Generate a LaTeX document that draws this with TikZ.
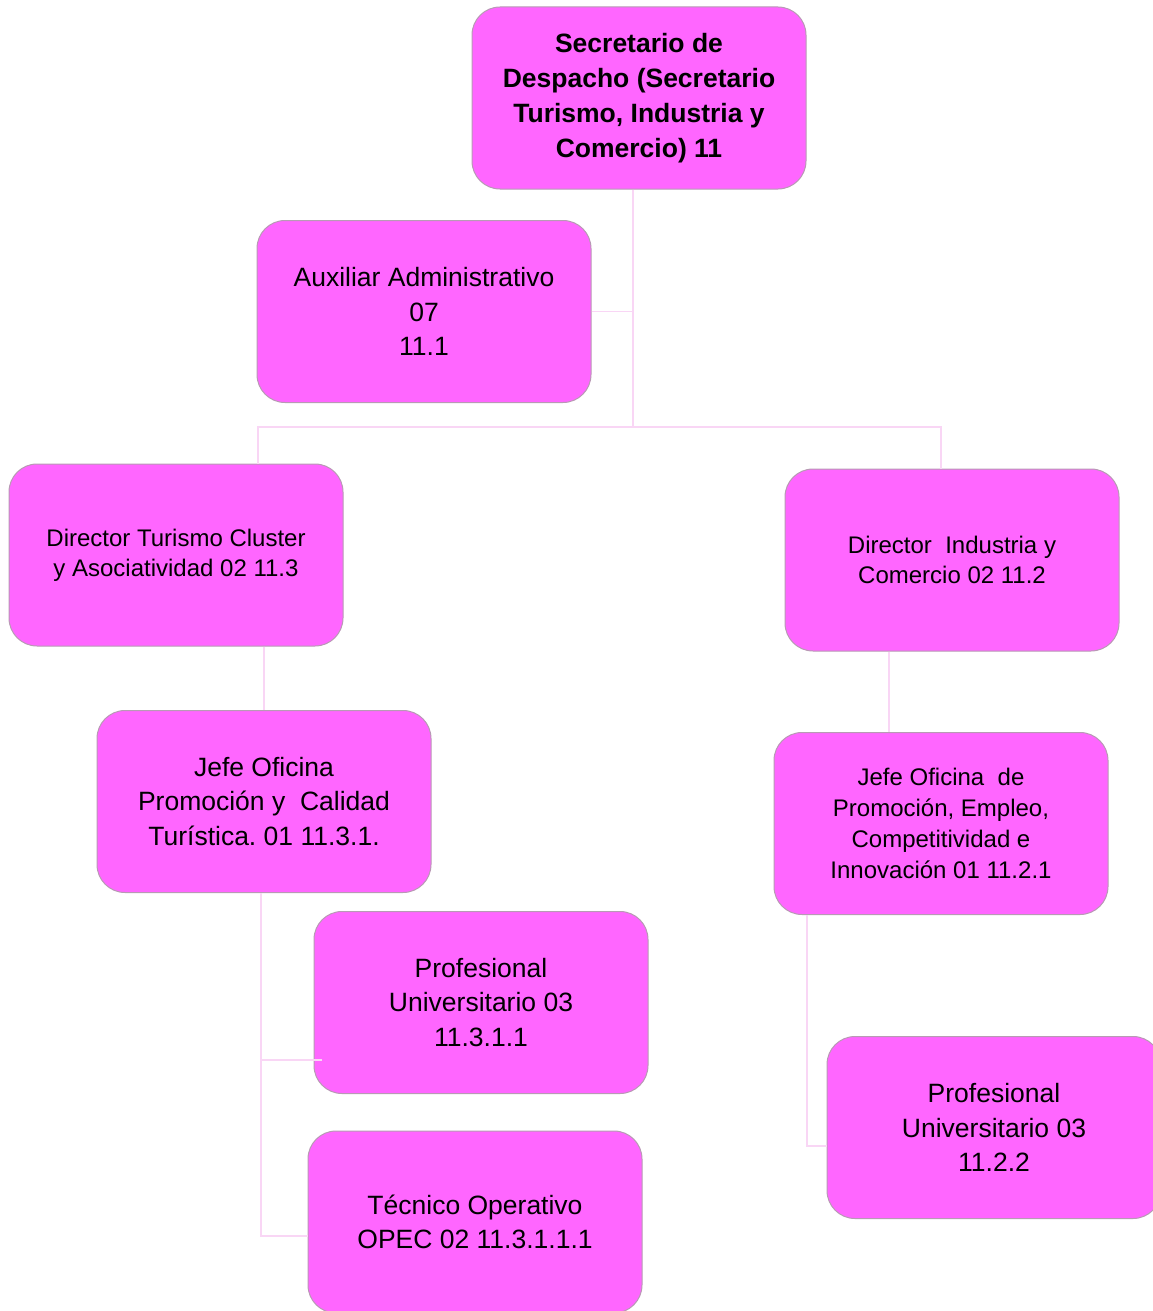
\documentclass[tikz,border=0pt]{standalone}
\usepackage{fontspec}
\setmainfont{Liberation Sans}
\frenchspacing
\definecolor{boxfill}{HTML}{FF66FF}
\definecolor{boxline}{HTML}{B89AB4}
\definecolor{connc}{HTML}{F9D6F5}
\begin{document}
\begin{tikzpicture}[x=1pt,y=-1pt,
  orgbox/.style={draw=boxline, line width=1pt, fill=boxfill, rounded corners=28pt,
     minimum width=334pt, minimum height=182pt, align=center, inner sep=0pt},
  conn/.style={draw=connc, line width=1.3pt},
  fbig/.style={font=\fontsize{26.5}{34.5}\selectfont},
  fmid/.style={font=\fontsize{24}{31}\selectfont},
  fsmall/.style={font=\fontsize{24}{30}\selectfont}]
\useasboundingbox (0,0) rectangle (1153,1311);
% nodes
\node[orgbox, font=\bfseries\fontsize{26.5}{35}\selectfont] (sec) at (639,98) {Secretario de\\Despacho (Secretario\\Turismo, Industria y\\Comercio) 11};
\node[orgbox, fbig] (aux) at (424,311.5) {Auxiliar Administrativo\\07\\11.1};
\node[orgbox, fsmall] (dt) at (176,555) {Director Turismo Cluster\\y Asociatividad 02 11.3};
\node[orgbox, fsmall] (di) at (952,560) {Director\ \ Industria y\\Comercio 02 11.2};
\node[orgbox, fbig] (jp) at (264,801.5) {Jefe Oficina\\Promoción y\ \ Calidad\\Turística. 01 11.3.1.};
\node[orgbox, fmid] (je) at (941,823.5) {Jefe Oficina\ \ de\\Promoción, Empleo,\\Competitividad e\\Innovación 01 11.2.1};
\node[orgbox, fbig] (pu1) at (481,1002.5) {Profesional\\Universitario 03\\11.3.1.1};
\node[orgbox, fbig] (tec) at (475,1222) {Técnico Operativo\\OPEC 02 11.3.1.1.1};
\node[orgbox, fbig] (pu2) at (994,1127.5) {Profesional\\Universitario 03\\11.2.2};
% connectors
\coordinate (tb) at (633,427);
\draw[conn] (sec.south -| tb) -- (tb);
\draw[conn] (aux.east) -- (aux.east -| tb);
\draw[conn] (tb) -| ([xshift=82pt]dt.north);
\draw[conn] (tb) -| ([xshift=-11pt]di.north);
\draw[conn] (dt.south -| jp.north) -- (jp.north);
\draw[conn] ([xshift=-63pt]di.south) -- ([xshift=-52pt]je.north);
\draw[conn] ([xshift=-3pt]jp.south) |- ([yshift=-14pt]tec.west);
\draw[conn] ([xshift=-3pt,yshift=-57.5pt]pu1.west -| jp.south) -- ([xshift=8pt,yshift=-57.5pt]pu1.west);
\draw[conn] ([xshift=-134pt]je.south) |- ([yshift=-18.5pt]pu2.west);
\draw[conn] ([xshift=-134pt]je.south) -- ([xshift=-134pt,yshift=-9pt]je.south |- pu2.west);
\end{tikzpicture}
\end{document}
